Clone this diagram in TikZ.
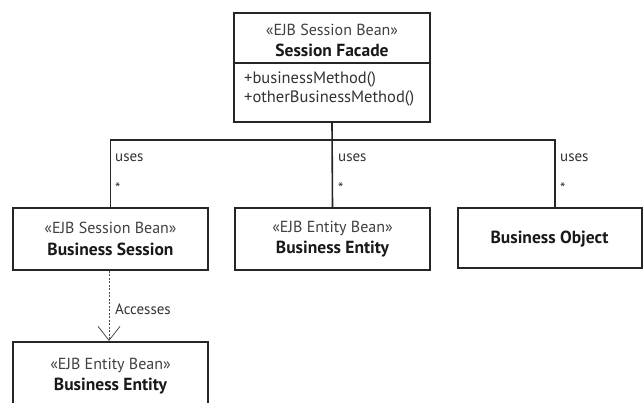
\documentclass[tikz,border=0pt]{standalone}
\usepackage{fontspec}
\setmainfont{PT Sans}
\usetikzlibrary{arrows.meta}
\begin{document}
\begin{tikzpicture}[x=1pt,y=-1pt,
  classbox/.style={draw=black!85, line width=2pt, fill=white, inner sep=0pt},
  stereo/.style={font=\fontsize{16}{18}\selectfont, text=black!75, inner sep=0pt},
  cname/.style={font=\fontsize{17.5}{20}\selectfont\bfseries, text=black!90, inner sep=0pt},
  method/.style={font=\fontsize{16.5}{18}\selectfont, text=black!80, inner sep=0pt, anchor=west},
  conn/.style={draw=black!85, line width=1.6pt},
  lbl/.style={font=\fontsize{15}{17}\selectfont, text=black!80, inner sep=0pt, anchor=west},
  dep/.style={draw=black!70, line width=0.8pt, dash pattern=on 2pt off 1.5pt,
    -{Straight Barb[length=14pt,width=22pt,line width=0.8pt]}}]
  \clip (0,0) rectangle (643,403);
  \fill[white] (0,0) rectangle (643,403);

  % Session facade with its operations compartment
  \node[classbox, minimum width=196pt, minimum height=109pt] (facade) at (332,67.5) {};
  \node[stereo] (facadeSt) at (332,30) {«EJB Session Bean»};
  \node[cname] (facadeName) at (332,50) {Session Facade};
  \draw[line width=2pt, draw=black!85] (facade.west |- 0,63) -- (facade.east |- 0,63);
  \node[method] (op1) at (244,79) {+businessMethod()};
  \node[method] (op2) at (244,98) {+otherBusinessMethod()};

  % Business tier classes
  \node[classbox, minimum width=195pt, minimum height=62pt] (session) at (110.5,239) {};
  \node[stereo] (sessionSt) at (110.5,228) {«EJB Session Bean»};
  \node[cname] (sessionName) at (110.5,249) {Business Session};

  \node[classbox, minimum width=195pt, minimum height=62pt] (entity) at (332.5,239) {};
  \node[stereo] (entitySt) at (332.5,228) {«EJB Entity Bean»};
  \node[cname] (entityName) at (332.5,249) {Business Entity};

  \node[classbox, minimum width=184pt, minimum height=60pt] (object) at (549.5,238) {};
  \node[cname] (objectName) at (549.5,239) {Business Object};

  \node[classbox, minimum width=195pt, minimum height=70pt] (entity2) at (110.5,377) {};
  \node[stereo] (entity2St) at (110.5,365) {«EJB Entity Bean»};
  \node[cname] (entity2Name) at (110.5,386) {Business Entity};

  % Associations from the facade
  \coordinate (busR) at (555,140);
  \draw[conn] (facade.south) -- (entity.north);
  \draw[conn] (session.north) |- (busR) -- (object.north -| busR);

  \node[lbl] (uses1) at (115,158) {uses};
  \node[lbl] (star1) at (115,188) {*};
  \node[lbl] (uses2) at (338,158) {uses};
  \node[lbl] (star2) at (338,188) {*};
  \node[lbl] (uses3) at (560,158) {uses};
  \node[lbl] (star3) at (560,188) {*};

  % Dependency
  \draw[dep] (session.south -| 109,0) -- (entity2.north -| 109,0);
  \node[lbl] (acc) at (115,309) {Accesses};
\end{tikzpicture}
\end{document}
